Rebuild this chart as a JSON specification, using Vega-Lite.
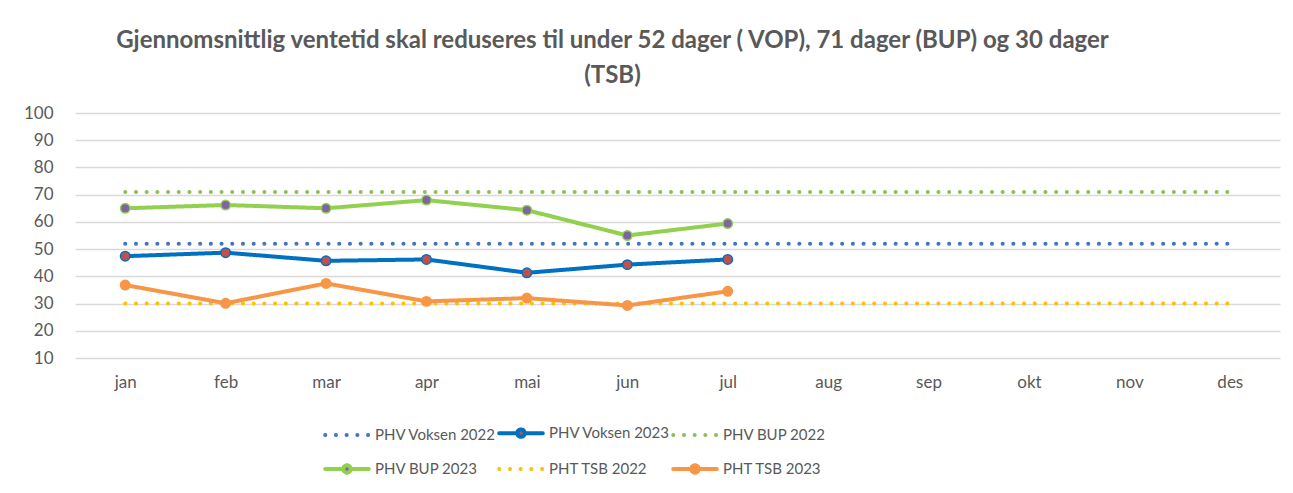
{
  "$schema": "https://vega.github.io/schema/vega-lite/v6.json",
  "autosize": "none",
  "width": 1205,
  "height": 245,
  "padding": {"left": 75, "top": 113, "right": 13, "bottom": 135},
  "background": "white",
  "config": {"view": {"stroke": null}},
  "title": {
    "text": ["Gjennomsnittlig ventetid skal reduseres til under 52 dager ( VOP), 71 dager (BUP) og 30 dager", "(TSB)"],
    "anchor": "middle",
    "dx": -65,
    "offset": 16,
    "font": "Lato",
    "fontSize": 24,
    "fontWeight": "bold",
    "color": "#595959",
    "lineHeight": 35
  },
  "data": {
    "values": [
      {"month": "jan", "series": "PHV Voksen 2022", "value": 52},
      {"month": "feb", "series": "PHV Voksen 2022", "value": 52},
      {"month": "mar", "series": "PHV Voksen 2022", "value": 52},
      {"month": "apr", "series": "PHV Voksen 2022", "value": 52},
      {"month": "mai", "series": "PHV Voksen 2022", "value": 52},
      {"month": "jun", "series": "PHV Voksen 2022", "value": 52},
      {"month": "jul", "series": "PHV Voksen 2022", "value": 52},
      {"month": "aug", "series": "PHV Voksen 2022", "value": 52},
      {"month": "sep", "series": "PHV Voksen 2022", "value": 52},
      {"month": "okt", "series": "PHV Voksen 2022", "value": 52},
      {"month": "nov", "series": "PHV Voksen 2022", "value": 52},
      {"month": "des", "series": "PHV Voksen 2022", "value": 52},
      {"month": "jan", "series": "PHV BUP 2022", "value": 71},
      {"month": "feb", "series": "PHV BUP 2022", "value": 71},
      {"month": "mar", "series": "PHV BUP 2022", "value": 71},
      {"month": "apr", "series": "PHV BUP 2022", "value": 71},
      {"month": "mai", "series": "PHV BUP 2022", "value": 71},
      {"month": "jun", "series": "PHV BUP 2022", "value": 71},
      {"month": "jul", "series": "PHV BUP 2022", "value": 71},
      {"month": "aug", "series": "PHV BUP 2022", "value": 71},
      {"month": "sep", "series": "PHV BUP 2022", "value": 71},
      {"month": "okt", "series": "PHV BUP 2022", "value": 71},
      {"month": "nov", "series": "PHV BUP 2022", "value": 71},
      {"month": "des", "series": "PHV BUP 2022", "value": 71},
      {"month": "jan", "series": "PHT TSB 2022", "value": 30},
      {"month": "feb", "series": "PHT TSB 2022", "value": 30},
      {"month": "mar", "series": "PHT TSB 2022", "value": 30},
      {"month": "apr", "series": "PHT TSB 2022", "value": 30},
      {"month": "mai", "series": "PHT TSB 2022", "value": 30},
      {"month": "jun", "series": "PHT TSB 2022", "value": 30},
      {"month": "jul", "series": "PHT TSB 2022", "value": 30},
      {"month": "aug", "series": "PHT TSB 2022", "value": 30},
      {"month": "sep", "series": "PHT TSB 2022", "value": 30},
      {"month": "okt", "series": "PHT TSB 2022", "value": 30},
      {"month": "nov", "series": "PHT TSB 2022", "value": 30},
      {"month": "des", "series": "PHT TSB 2022", "value": 30},
      {"month": "jan", "series": "PHV Voksen 2023", "value": 47.4},
      {"month": "feb", "series": "PHV Voksen 2023", "value": 48.7},
      {"month": "mar", "series": "PHV Voksen 2023", "value": 45.7},
      {"month": "apr", "series": "PHV Voksen 2023", "value": 46.2},
      {"month": "mai", "series": "PHV Voksen 2023", "value": 41.3},
      {"month": "jun", "series": "PHV Voksen 2023", "value": 44.3},
      {"month": "jul", "series": "PHV Voksen 2023", "value": 46.2},
      {"month": "jan", "series": "PHV BUP 2023", "value": 65},
      {"month": "feb", "series": "PHV BUP 2023", "value": 66.2},
      {"month": "mar", "series": "PHV BUP 2023", "value": 65},
      {"month": "apr", "series": "PHV BUP 2023", "value": 68},
      {"month": "mai", "series": "PHV BUP 2023", "value": 64.3},
      {"month": "jun", "series": "PHV BUP 2023", "value": 55},
      {"month": "jul", "series": "PHV BUP 2023", "value": 59.4},
      {"month": "jan", "series": "PHT TSB 2023", "value": 36.8},
      {"month": "feb", "series": "PHT TSB 2023", "value": 30.1},
      {"month": "mar", "series": "PHT TSB 2023", "value": 37.4},
      {"month": "apr", "series": "PHT TSB 2023", "value": 30.8},
      {"month": "mai", "series": "PHT TSB 2023", "value": 32},
      {"month": "jun", "series": "PHT TSB 2023", "value": 29.3},
      {"month": "jul", "series": "PHT TSB 2023", "value": 34.5}
    ]
  },
  "encoding": {
    "x": {
      "field": "month", "type": "ordinal",
      "sort": ["jan","feb","mar","apr","mai","jun","jul","aug","sep","okt","nov","des"],
      "scale": {"type": "point", "padding": 0.5},
      "axis": {"title": null, "domain": false, "ticks": false, "labelAngle": 0, "labelPadding": 16, "labelFont": "Lato", "labelFontSize": 17, "labelColor": "#595959", "grid": false}
    },
    "y": {
      "field": "value", "type": "quantitative",
      "scale": {"domain": [10, 100], "nice": false, "zero": false},
      "axis": {"title": null, "values": [10,20,30,40,50,60,70,80,90,100], "domain": false, "ticks": false, "labelPadding": 22, "labelFont": "Lato", "labelFontSize": 17, "labelColor": "#595959", "gridColor": "#D9D9D9", "gridWidth": 1.3}
    }
  },
  "layer": [
    {
      "mark": {"type": "line", "strokeWidth": 4, "strokeCap": "round", "strokeJoin": "round"},
      "encoding": {
        "color": {
          "field": "series", "type": "nominal",
          "scale": {
            "domain": ["PHV Voksen 2022","PHV Voksen 2023","PHV BUP 2022","PHV BUP 2023","PHT TSB 2022","PHT TSB 2023"],
            "range": ["#4472C4","#0070C0","#8DC153","#92D050","#FFC000","#F79646"]
          },
          "legend": {
            "title": null,
            "orient": "none",
            "legendX": 248,
            "legendY": 296,
            "direction": "horizontal",
            "columns": 3,
            "symbolType": "stroke",
            "symbolSize": 1900,
            "symbolStrokeWidth": 4,
            "labelFont": "Lato",
            "labelFontSize": 15,
            "labelColor": "#595959",
            "labelOffset": 4,
            "rowPadding": -6,
            "columnPadding": -17,
            "encode": {
              "symbols": {
                "update": {
                  "strokeCap": {"value": "round"},
                  "shape": {"signal": "indexof(datum.value, '2023') >= 0 ? 'M-1,0L-0.17,0M0.17,0L1,0M-0.17,0A0.17,0.17 0 1,1 0.17,0A0.17,0.17 0 1,1 -0.17,0' : 'stroke'"},
                  "fill": {"signal": "datum.value === 'PHV Voksen 2023' ? '#C0504D' : datum.value === 'PHV BUP 2023' ? '#8064A2' : datum.value === 'PHT TSB 2023' ? '#F79646' : 'transparent'"}
                }
              }
            }
          }
        },
        "strokeDash": {
          "field": "series", "type": "nominal",
          "scale": {
            "domain": ["PHV Voksen 2022","PHV Voksen 2023","PHV BUP 2022","PHV BUP 2023","PHT TSB 2022","PHT TSB 2023"],
            "range": [[0.1,10.6],[1,0],[0.1,10.6],[1,0],[0.1,10.6],[1,0]]
          }
        }
      }
    },
    {
      "transform": [{"filter": {"field": "series", "oneOf": ["PHV Voksen 2023","PHV BUP 2023","PHT TSB 2023"]}}],
      "mark": {"type": "point", "filled": true, "opacity": 1, "strokeWidth": 1.5},
      "encoding": {
        "fill": {
          "field": "series", "type": "nominal",
          "scale": {"domain": ["PHV Voksen 2023","PHV BUP 2023","PHT TSB 2023"], "range": ["#C0504D","#8064A2","#F79646"]},
          "legend": null
        },
        "stroke": {
          "field": "series", "type": "nominal",
          "scale": {"domain": ["PHV Voksen 2023","PHV BUP 2023","PHT TSB 2023"], "range": ["#0070C0","#92D050","#F79646"]},
          "legend": null
        },
        "size": {"value": 90}
      }
    }
  ]
}
